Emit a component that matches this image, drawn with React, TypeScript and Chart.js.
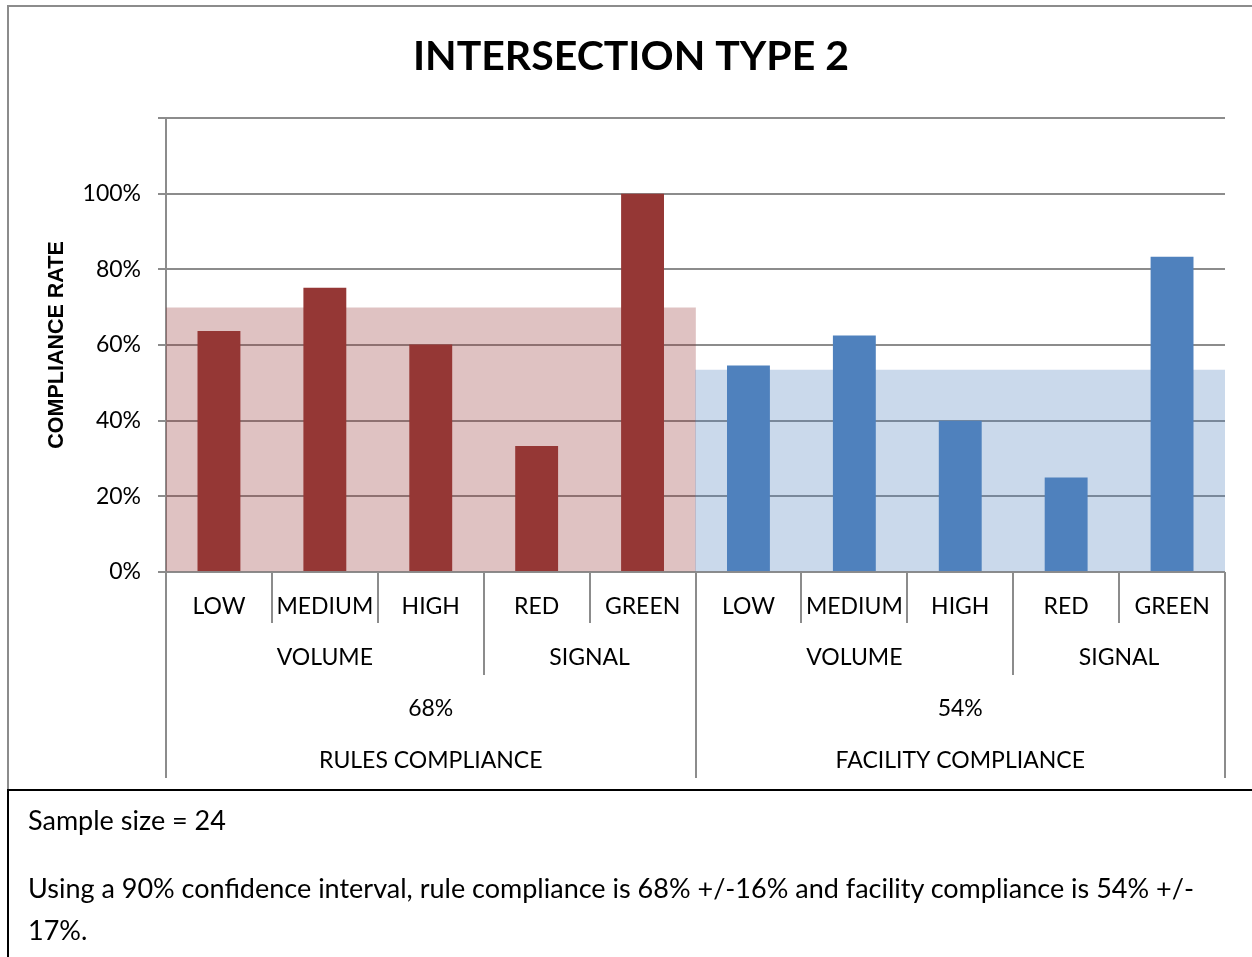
import React, { useEffect, useRef } from "react";
import { Chart, registerables } from "chart.js";

Chart.register(...registerables);

const TITLE = "INTERSECTION TYPE 2";
const Y_TITLE = "COMPLIANCE RATE";
const SUB_LABELS = ["LOW", "MEDIUM", "HIGH", "RED", "GREEN", "LOW", "MEDIUM", "HIGH", "RED", "GREEN"];
const GROUP_NAMES = ["VOLUME", "SIGNAL", "VOLUME", "SIGNAL"];
const GROUP_SPANS = [3, 2, 3, 2];
const TOP_NAMES = ["RULES COMPLIANCE", "FACILITY COMPLIANCE"];
const TOP_PERCENTS = ["68%", "54%"];
const TOP_SPANS = [5, 5];
const RULES_VALUES = [63.7, 75.1, 60.1, 33.3, 100];
const FACILITY_VALUES = [54.6, 62.5, 40.0, 25.0, 83.3];
const OVERALL_VALUES = [69.8, 53.4];
const Y_TICKS_MAX = 100;
const NOTE_LINE1 = "Sample size = 24";
const NOTE_LINE2 = "Using a 90% confidence interval, rule compliance is 68% +/-16% and facility compliance is 54% +/-";
const NOTE_LINE3 = "17%.";

const RED = "#953735";
const BLUE = "#4F81BD";
const RED_SHADE = "rgba(150,54,52,0.3)";
const BLUE_SHADE = "rgba(79,129,189,0.3)";
const GRID = "#8c8c8c";
const FONT = "Lato";

const multiLevelAxis = {
  id: "multiLevelAxis",
  afterDraw(chart: any) {
    const ctx = chart.ctx;
    const xs = chart.scales.x;
    const area = chart.chartArea;
    const n = SUB_LABELS.length;
    const step = xs.getPixelForValue(1) - xs.getPixelForValue(0);
    const edge = (b: number) => xs.getPixelForValue(0) - step / 2 + b * step;
    const groupB = new Set<number>();
    let acc = 0;
    GROUP_SPANS.forEach((s) => { acc += s; groupB.add(acc); });
    const topB = new Set<number>([0]);
    acc = 0;
    TOP_SPANS.forEach((s) => { acc += s; topB.add(acc); });
    const y0 = area.bottom;
    ctx.save();
    ctx.strokeStyle = GRID;
    ctx.lineWidth = 2;
    for (let b = 0; b <= n; b++) {
      const len = topB.has(b) ? 206 : groupB.has(b) ? 103 : 51;
      const x = Math.round(edge(b));
      ctx.beginPath();
      ctx.moveTo(x, y0);
      ctx.lineTo(x, y0 + len);
      ctx.stroke();
    }
    ctx.fillStyle = "#000";
    ctx.textAlign = "center";
    ctx.textBaseline = "middle";
    ctx.font = `23px ${FONT}`;
    SUB_LABELS.forEach((l, i) => {
      ctx.fillText(l, xs.getPixelForValue(i), y0 + 35);
    });
    let start = 0;
    GROUP_NAMES.forEach((g, i) => {
      const end = start + GROUP_SPANS[i];
      ctx.fillText(g, (edge(start) + edge(end)) / 2, y0 + 86);
      start = end;
    });
    start = 0;
    TOP_NAMES.forEach((t, i) => {
      const end = start + TOP_SPANS[i];
      const cx = (edge(start) + edge(end)) / 2;
      ctx.fillText(TOP_PERCENTS[i], cx, y0 + 137);
      ctx.fillText(t, cx, y0 + 189);
      start = end;
    });
    ctx.font = `bold 41px ${FONT}`;
    ctx.fillText(TITLE, 631, 57);
    ctx.restore();
  },
};

export default function App() {
  const ref = useRef<HTMLCanvasElement | null>(null);
  useEffect(() => {
    if (!ref.current) return;
    const values = [...RULES_VALUES, ...FACILITY_VALUES];
    const colors = [...RULES_VALUES.map(() => RED), ...FACILITY_VALUES.map(() => BLUE)];
    const chart = new Chart(ref.current, {
      type: "bar",
      data: {
        labels: SUB_LABELS,
        datasets: [
          {
            label: "values",
            data: values,
            backgroundColor: colors,
            barPercentage: 0.405,
            categoryPercentage: 1,
            grouped: false,
            order: 1,
            xAxisID: "x",
          },
          {
            label: "overall",
            data: OVERALL_VALUES as any,
            backgroundColor: [RED_SHADE, BLUE_SHADE],
            barPercentage: 1,
            categoryPercentage: 1,
            grouped: false,
            order: 2,
            xAxisID: "x2",
          },
        ],
      },
      options: {
        responsive: false,
        animation: false,
        layout: { padding: { left: 0, top: 118, right: 27, bottom: 0 } },
        plugins: { legend: { display: false }, tooltip: { enabled: false }, title: { display: false } },
        scales: {
          x: {
            type: "category",
            ticks: { display: false },
            grid: { display: false },
            border: { display: false },
            afterFit: (s: any) => { s.height = 218; },
          },
          x2: {
            type: "category",
            labels: TOP_NAMES,
            display: false,
            offset: true,
          },
          y: {
            min: 0,
            max: 120,
            ticks: {
              stepSize: 20,
              callback: (v: any) => (Number(v) <= Y_TICKS_MAX ? `${v}%` : ""),
              font: { family: FONT, size: 23 },
              color: "#000",
              padding: 17,
            },
            grid: { color: GRID, lineWidth: 2, tickLength: 8 },
            border: { display: true, color: GRID, width: 2 },
            title: {
              display: true,
              text: Y_TITLE,
              font: { family: "Liberation Sans", weight: "bold", size: 21.5 },
              color: "#000",
              padding: { top: 44, bottom: 0 },
            },
            afterFit: (s: any) => { s.width = 166; },
          },
        },
      } as any,
      plugins: [multiLevelAxis],
    });
    return () => chart.destroy();
  }, []);

  const textStyle: React.CSSProperties = {
    position: "absolute",
    left: 28,
    fontFamily: FONT,
    fontSize: 27,
    lineHeight: "30px",
    color: "#000",
    whiteSpace: "nowrap",
  };

  return (
    <div style={{ position: "fixed", left: 0, top: 0, width: 1252, height: 957, overflow: "hidden", background: "#fff" }}>
      <canvas ref={ref} width={1252} height={790} style={{ position: "absolute", left: 0, top: 0, width: 1252, height: 790 }} />
      <div style={{ position: "absolute", left: 7, top: 5, width: 1245, height: 785, borderLeft: `2px solid ${GRID}`, borderTop: `2px solid ${GRID}`, boxSizing: "border-box", pointerEvents: "none" }} />
      <div style={{ position: "absolute", left: 7, top: 789, width: 1245, height: 168, borderLeft: "2px solid #000", borderTop: "2px solid #000", boxSizing: "border-box" }} />
      <div style={{ ...textStyle, top: 805 }}>{NOTE_LINE1}</div>
      <div style={{ ...textStyle, top: 873 }}>{NOTE_LINE2}</div>
      <div style={{ ...textStyle, top: 915 }}>{NOTE_LINE3}</div>
    </div>
  );
}
